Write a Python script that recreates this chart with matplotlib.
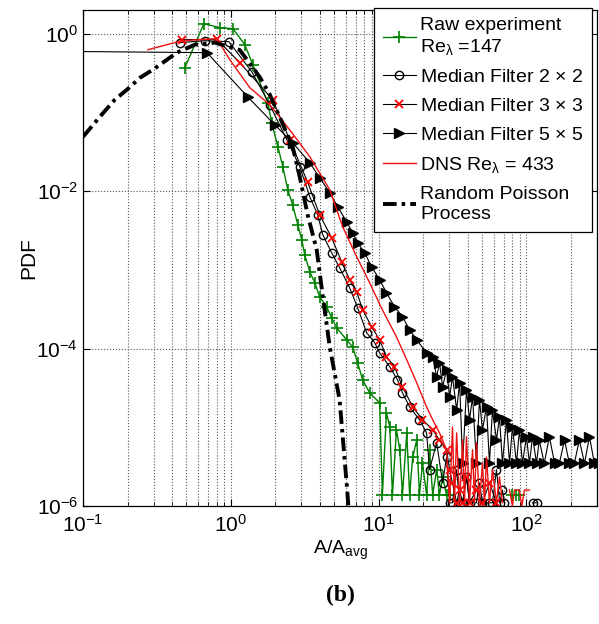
import numpy as np
import matplotlib
matplotlib.use("Agg")
import matplotlib.pyplot as plt
from matplotlib.ticker import LogLocator, NullLocator, NullFormatter

plt.rcParams['font.family'] = ['Liberation Sans', 'DejaVu Sans']
plt.rcParams['mathtext.fontset'] = 'custom'
plt.rcParams['mathtext.rm'] = 'Liberation Sans'
plt.rcParams['mathtext.it'] = 'Liberation Sans:italic'
plt.rcParams['mathtext.default'] = 'regular'

nan = np.nan

# raw experiment, Re_lambda = 147
raw_x = [0.489, 0.657, 0.843, 1.032, 1.243, 1.408, 1.778, 1.89, 2.08, 2.25,
         2.43, 2.62, 2.84, 3.02, 3.16, 3.42, 3.70, 3.99, 4.45, 4.81,
         5.20, 6.08, 6.67, 7.21, 7.80, 8.69, 10.16, 10.6, 11.3, 11.9,
         12.4, 13.2, 13.9, 14.5, 15.5, 16.2, 17.0, 18.1, 18.9, 19.8,
         21.1, 22.1, 23.2, 24.7, 25.8, 27.1, 28.8, 30.2, nan, 80.4,
         85.6, 89.7]
raw_y = [0.370, 1.34, 1.19, 1.16, 0.725, 0.404, 0.133, 0.074, 0.0367, 0.0204,
         0.0104, 0.0067, 0.00374, 0.00241, 0.00156, 9.46e-4, 6.86e-4, 4.55e-4, 3.40e-4, 2.46e-4,
         1.84e-4, 1.29e-4, 1.05e-4, 6.6e-5, 4.0e-5, 2.74e-5, 2.05e-5, 1.39e-6, 1.53e-5, 1.01e-5,
         1.39e-6, 9.3e-6, 5.2e-6, 1.39e-6, 8.5e-6, 1.39e-6, 4.2e-6, 6.9e-6, 1.39e-6, 3.5e-6,
         1.39e-6, 5.2e-6, 1.39e-6, 2.9e-6, 1.39e-6, 2.35e-6, 1.39e-6, 1.39e-6, nan, 1.39e-6,
         1.39e-6, 1.39e-6]

# median filter 2x2
m2_x = [0.452, 0.667, 0.969, 1.386, 1.835, 2.39, 2.93, 3.42, 3.87, 4.19,
        4.81, 5.45, 6.37, 7.21, 8.30, 9.40, 10.16, 11.9, 13.4, 14.5,
        16.2, 18.9, 21.1, 22.1, 24.7, 27.1, 28.8, 30.2, 31.6, 33.7,
        35.3, 37.0, 39.3, 41.2, 45.9, 48.1, 50.4, 56.2, 58.9, 62.7,
        66.0, 68.8, 71.0, nan, 110, 117]
m2_y = [0.769, 0.815, 0.791, 0.329, 0.125, 0.045, 0.0204, 0.00849, 0.00501, 0.00279,
        0.00165, 0.00106, 5.92e-4, 3.30e-4, 1.59e-4, 1.19e-4, 8.85e-5, 5.87e-5, 4.02e-5, 2.74e-5,
        1.82e-5, 1.25e-5, 8.5e-6, 2.9e-6, 6.4e-6, 1.97e-6, 4.2e-6, 1.1e-6, 1.1e-6, 2.9e-6,
        1.1e-6, 1.1e-6, 2.35e-6, 1.1e-6, 1.1e-6, 1.97e-6, 1.1e-6, 1.1e-6, 1.1e-6, 2.9e-6,
        1.1e-6, 1.6e-6, 1.1e-6, nan, 1.1e-6, 1.1e-6]

# median filter 3x3
m3_x = [0.467, 0.804, 1.15, 1.92, 2.50, 3.31, 3.99, 4.81, 5.62, 6.37,
        7.10, 7.80, 8.97, 10.16, 11.3, 12.8, 14.5, 17.0, 19.8, 23.2,
        25.8, 28.8, 30.2, 31.6, 33.7, 35.3, 37.0, 39.3, 41.2, 45.9,
        50.4, 56.2, 62.7]
m3_y = [0.839, 0.85, 0.428, 0.145, 0.045, 0.013, 0.00501, 0.00256, 0.00127, 7.48e-4,
        5.27e-4, 3.11e-4, 1.89e-4, 1.29e-4, 7.87e-5, 5.87e-5, 3.27e-5, 1.82e-5, 1.25e-5, 9.3e-6,
        6.9e-6, 5.2e-6, 2.9e-6, 1.97e-6, 1.1e-6, 1.6e-6, 1.1e-6, 2.35e-6, 1.1e-6, 1.6e-6,
        1.1e-6, 1.97e-6, 1.1e-6]

# median filter 5x5
m5_x = [0.05, 0.689, 1.30, 1.98, 2.62, 3.42, 3.99, 4.67, 5.28, 6.08,
        6.67, 7.21, 8.04, 8.97, 10.16, 11.3, 12.8, 14.5, 16.2, 18.1,
        21.1, 23.2, 24.7, 25.8, 27.1, 28.8, 30.2, 31.6, 33.7, 35.3,
        37.0, 39.3, 41.2, 43.2, 45.9, 48.1, 50.4, 53.7, 56.2, 58.9,
        62.7, 65.7, 68.8, 73.2, 76.8, 80.4, 85.6, 89.7, 94.0, 100,
        104.8, 110, 117, 122, 132, 143, 155, 167, 181, 195,
        211, 228, 247, 267, 288, 311]
m5_y = [0.60, 0.574, 0.158, 0.0698, 0.0412, 0.0230, 0.0148, 0.00955, 0.00634, 0.00408,
        0.00296, 0.00221, 0.00165, 0.00109, 7.48e-4, 5.12e-4, 3.40e-4, 2.54e-4, 1.73e-4, 1.29e-4,
        8.85e-5, 7.87e-5, 4.38e-5, 6.6e-5, 3.27e-5, 5.38e-5, 2.44e-5, 4.38e-5, 1.67e-5, 3.68e-5,
        3.5e-6, 3.0e-5, 1.25e-5, 2.44e-5, 3.5e-6, 2.24e-5, 9.3e-6, 1.82e-5, 3.5e-6, 1.67e-5,
        6.9e-6, 1.36e-5, 3.5e-6, 1.25e-5, 3.5e-6, 1.01e-5, 3.5e-6, 9.3e-6, 3.5e-6, 7.6e-6,
        3.5e-6, 7.6e-6, 3.5e-6, 6.9e-6, 3.5e-6, 7.6e-6, 3.5e-6, 3.5e-6, 6.9e-6, 3.5e-6,
        3.5e-6, 6.9e-6, 3.5e-6, 7.6e-6, 3.5e-6, 3.5e-6]

# DNS, Re_lambda = 433
dns_x = [0.275, 0.467, 0.804, 0.984, 1.344, 1.835, 2.50, 3.42, 4.67, 5.71,
         7.10, 8.69, 10.6, 13.2, 15.5, 18.1, 21.1, 23.2, 25.8, 28.8,
         30.2, 31.6, 32.6, 33.7, 35.3, 37.0, 38.1, 39.3, 41.2, 43.2,
         44.5, 45.9, 48.1, 50.4, 52.0, 53.7, 56.2, 58.9, 62.7, 65.7,
         68.8, nan, 76.8, 80.4, 83.0, 89.7, 93.0, 96.9, 104.8]
dns_y = [0.626, 0.815, 0.864, 0.467, 0.206, 0.125, 0.0603, 0.0274, 0.0104, 0.00353,
         0.00147, 6.86e-4, 3.11e-4, 1.41e-4, 7.21e-5, 3.68e-5, 1.82e-5, 1.25e-5, 8.5e-6, 5.2e-6,
         1.1e-6, 1.01e-5, 1.1e-6, 8.5e-6, 1.1e-6, 6.9e-6, 1.1e-6, 7.6e-6, 1.1e-6, 5.2e-6,
         1.1e-6, 6.4e-6, 1.1e-6, 3.5e-6, 1.1e-6, 4.2e-6, 1.1e-6, 2.9e-6, 1.1e-6, 2.35e-6,
         1.1e-6, nan, 1.6e-6, 1.0e-6, 1.6e-6, 1.6e-6, 1.0e-6, 1.6e-6, 1.6e-6]

# random Poisson process
pois_x = [0.1, 0.13, 0.164, 0.198, 0.243, 0.297, 0.347, 0.431, 0.571, 0.78,
          1.15, 1.57, 1.83, 2.08, 2.62, 2.93, 3.31, 3.81, 4.19, 4.67,
          5.45, 6.08, 6.3]
pois_y = [0.049, 0.088, 0.145, 0.194, 0.276, 0.349, 0.429, 0.574, 0.725, 0.77,
          0.62, 0.28, 0.17, 0.099, 0.0367, 0.015, 0.0050, 0.0018, 4.6e-4, 1.05e-4,
          2.2e-5, 1.9e-6, 8e-7]

labels = ['Raw experiment\nRe$_\\lambda$ =147',
          'Median Filter 2 $\\times$ 2',
          'Median Filter 3 $\\times$ 3',
          'Median Filter 5 $\\times$ 5',
          'DNS Re$_\\lambda$ = 433',
          'Random Poisson\nProcess']

fig = plt.figure(figsize=(5.99, 6.24), dpi=100)
ax = fig.add_axes([0.1386, 0.189, 0.858, 0.795])

h_raw, = ax.plot(raw_x, raw_y, '-', color='#008000', lw=1.0, marker='+', ms=9, mew=1.2)
h_m2, = ax.plot(m2_x, m2_y, '-', color='k', lw=0.8, marker='o', ms=6, mfc='none', mec='k', mew=1.0)
h_m3, = ax.plot(m3_x, m3_y, '-', color='k', lw=0.8, marker='x', ms=6, mec='r', mew=1.3)
h_m5, = ax.plot(m5_x, m5_y, '-', color='k', lw=0.8, marker='>', ms=7, mfc='k', mec='k')
h_dns, = ax.plot(dns_x, dns_y, '-', color='#ee1111', lw=1.0)
h_pois, = ax.plot(pois_x, pois_y, color='k', lw=2.8, dashes=[3.5, 1.3, 0.9, 1.3])

ax.set_xscale('log')
ax.set_yscale('log')
ax.set_xlim(0.1, 300)
ax.set_ylim(1e-6, 2)
ax.set_yticks([1e-6, 1e-4, 1e-2, 1])
ax.yaxis.set_minor_locator(NullLocator())
ax.xaxis.set_minor_locator(LogLocator(base=10, subs=range(2, 10)))
ax.xaxis.set_minor_formatter(NullFormatter())

ax.grid(True, which='major', ls=':', color='0.35', lw=0.8)
ax.grid(True, which='minor', axis='x', ls=':', color='0.35', lw=0.8)

ax.tick_params(which='both', direction='in', top=True, right=True, labelsize=15)
ax.tick_params(which='major', length=5, width=0.8)
ax.tick_params(which='minor', length=3, width=0.6)
ax.tick_params(axis='x', pad=6)
for s in ax.spines.values():
    s.set_linewidth(0.9)

ax.set_ylabel('PDF', fontsize=15, labelpad=-1)
ax.set_xlabel('A/A$_{avg}$', fontsize=14, labelpad=2)

leg = ax.legend([h_raw, h_m2, h_m3, h_m5, h_dns, h_pois], labels,
                loc='upper right', bbox_to_anchor=(0.990, 1.003), borderaxespad=0,
                fontsize=14, frameon=True, fancybox=False, framealpha=1,
                handlelength=1.7, handletextpad=0.2, labelspacing=0.58, borderpad=0.45)
leg.get_frame().set_edgecolor('k')
leg.get_frame().set_linewidth(0.9)

fig.text(0.5676, 1 - 595 / 624, '(b)', family='Liberation Serif', weight='bold',
         fontsize=17, ha='center', va='center')

fig.savefig('out.png', dpi=100)
